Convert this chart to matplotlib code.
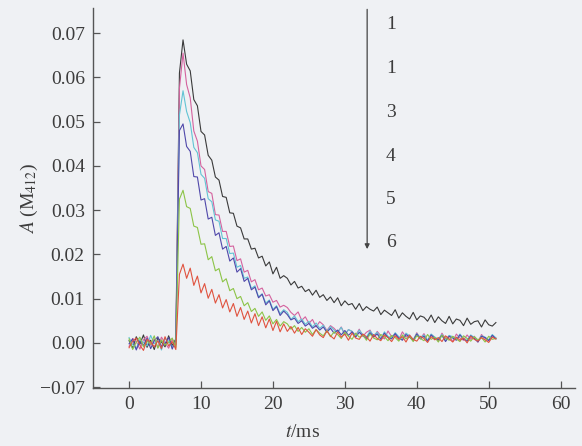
import matplotlib
matplotlib.use("Agg")
import matplotlib.pyplot as plt
import numpy as np

plt.rcParams["font.family"] = ["Liberation Serif", "DejaVu Serif"]
plt.rcParams["mathtext.fontset"] = "stix"

# sampling step of the traces (ms); values below are in units of 1e-3
DT = 0.5

black = [0.5, -1.2, 1.4, -0.3, 1.8, -1.0, 0.6, -1.5, 1.1, 0.2, -0.9, 1.6, -0.6, 0.9,
         61.0, 68.5, 63.0, 61.5, 55.0, 53.6, 47.8, 47.0, 42.4, 41.3,
         37.5, 36.8, 33.1, 32.9, 29.4, 29.3, 26.4, 26.0, 23.5, 23.5,
         21.2, 21.4, 19.2, 19.6, 17.4, 18.3, 15.6, 17.1, 14.6, 15.2,
         14.6, 13.1, 13.9, 12.4, 12.8, 11.6, 12.1, 10.8, 11.9, 10.3,
         10.9, 9.6, 10.4, 9.1, 10.2, 8.4, 9.5, 8.6, 8.9, 7.6,
         8.9, 7.3, 8.2, 7.6, 7.2, 8.1, 6.4, 7.4, 6.8, 6.2,
         7.5, 5.6, 6.8, 6.0, 5.4, 6.9, 5.2, 6.1, 5.8, 4.9,
         6.3, 4.6, 5.9, 5.0, 4.4, 6.0, 4.3, 5.4, 5.1, 3.9,
         5.6, 4.2, 4.8, 5.0, 3.6, 5.2, 4.1, 3.8, 4.6]

pink = [-0.8, 1.0, 0.3, -1.4, 0.7, 1.5, -0.5, 0.9, -1.1, 1.3, 0.0, -1.2, 0.8, -0.4,
        57.5, 65.5, 58.4, 55.4, 47.9, 45.6, 40.0, 39.2, 34.2, 33.8,
        29.0, 28.9, 25.2, 25.2, 21.8, 21.9, 18.6, 19.0, 16.0, 16.4,
        13.8, 14.3, 12.0, 12.4, 10.6, 10.9, 9.2, 9.6, 8.1, 8.5,
        8.0, 6.9, 6.2, 7.0, 5.1, 5.9, 4.4, 5.3, 3.6, 4.8,
        4.1, 2.8, 3.9, 3.3, 2.4, 3.6, 1.9, 3.0, 2.6, 1.7,
        3.1, 1.5, 2.4, 2.9, 1.2, 2.6, 1.6, 0.9, 2.7, 1.4,
        2.0, 0.7, 2.5, 1.3, 1.8, 0.6, 2.3, 1.0, 2.1, 0.5,
        1.9, 1.2, 0.4, 2.2, 0.9, 1.6, 0.3, 2.0, 1.1, 0.6,
        1.8, 0.8, 1.5, 0.2, 1.9, 1.0, 0.5, 1.7, 1.1]

cyan = [1.2, -0.4, -1.3, 0.8, 0.1, -0.7, 1.7, -0.2, 0.6, -1.6, 1.0, 0.4, -0.9, 0.3,
        51.5, 57.0, 52.3, 49.8, 44.2, 43.0, 38.1, 37.2, 32.6, 31.9,
        27.8, 27.5, 23.6, 23.6, 20.2, 20.3, 17.1, 17.5, 14.6, 14.9,
        12.3, 12.9, 10.4, 11.1, 9.0, 9.7, 7.6, 8.4, 6.6, 7.5,
        6.9, 5.3, 6.1, 4.8, 5.4, 4.2, 4.9, 3.6, 4.5, 3.3,
        4.0, 2.6, 3.7, 2.9, 2.4, 3.5, 1.8, 3.0, 2.6, 1.6,
        2.9, 1.9, 1.3, 2.7, 1.7, 2.4, 0.9, 2.5, 1.5, 1.1,
        2.3, 1.4, 0.8, 2.2, 1.6, 0.7, 2.1, 1.2, 1.8, 0.6,
        2.0, 1.3, 0.9, 1.9, 0.5, 1.7, 1.4, 0.8, 2.0, 1.0,
        0.6, 1.8, 1.2, 0.4, 1.6, 1.3, 0.7, 1.9, 1.1]

blue = [-0.2, 0.9, -1.6, 0.4, -0.6, 1.1, -1.3, 0.5, 1.4, -0.8, -0.1, 1.2, -1.4, 0.6,
        48.0, 49.5, 44.4, 43.3, 37.6, 37.5, 32.3, 32.6, 28.0, 28.4,
        24.3, 24.9, 21.2, 21.8, 18.5, 19.2, 16.0, 16.8, 13.9, 14.6,
        12.0, 12.6, 10.2, 11.0, 8.6, 9.5, 7.3, 8.2, 6.2, 7.2,
        6.4, 5.2, 5.6, 4.4, 5.0, 3.8, 4.4, 3.3, 3.9, 2.9,
        3.6, 2.4, 3.3, 2.2, 2.9, 1.8, 2.8, 1.7, 2.5, 1.3,
        2.4, 1.6, 1.0, 2.3, 1.4, 2.0, 0.8, 2.2, 1.2, 0.9,
        2.1, 1.1, 0.6, 1.9, 1.3, 0.5, 2.0, 0.9, 1.5, 0.4,
        1.8, 1.0, 0.7, 1.7, 0.3, 1.5, 1.1, 0.6, 1.8, 0.8,
        0.4, 1.6, 1.0, 0.2, 1.5, 1.2, 0.5, 1.7, 0.9]

green = [0.9, -1.5, 0.2, 1.3, -0.9, 0.4, -0.3, 1.6, -1.2, 0.7, -0.5, 0.1, 1.1, -1.0,
         32.5, 34.5, 30.8, 30.4, 26.4, 26.1, 22.3, 22.4, 18.8, 19.5,
         16.3, 16.8, 13.8, 14.5, 11.8, 12.3, 10.0, 10.5, 8.4, 9.1,
         7.1, 7.8, 6.0, 7.0, 5.1, 6.1, 4.3, 5.3, 3.8, 4.8,
         4.3, 3.1, 3.9, 2.6, 3.5, 2.4, 3.2, 1.9, 3.0, 2.2,
         1.6, 2.8, 1.4, 2.5, 1.9, 1.0, 2.4, 1.5, 0.8, 2.2,
         1.3, 1.8, 0.6, 2.0, 1.1, 0.7, 1.9, 1.4, 0.5, 1.7,
         1.2, 0.4, 1.8, 0.9, 1.5, 0.3, 1.6, 1.0, 0.5, 1.9,
         0.8, 1.3, 0.2, 1.7, 1.1, 0.6, 1.5, 0.9, 0.3, 1.6,
         1.0, 0.4, 1.4, 0.7, 1.2, 0.2, 1.5, 0.8, 1.0]

red = [-1.1, 0.4, 1.1, -0.5, -1.7, 0.8, 0.2, -0.9, 0.5, -1.3, 1.4, -0.7, 0.3, -1.5,
       15.5, 17.8, 14.6, 16.9, 13.0, 15.1, 11.3, 13.4, 10.1, 12.1,
       9.0, 10.9, 7.9, 9.8, 7.0, 8.9, 6.0, 8.0, 5.3, 7.2,
       4.5, 6.6, 3.9, 5.9, 3.4, 5.4, 2.8, 4.9, 2.5, 4.3,
       2.6, 3.7, 2.2, 3.5, 1.9, 3.2, 2.4, 1.5, 3.0, 1.8,
       1.2, 2.7, 1.6, 0.9, 2.5, 1.3, 2.0, 0.6, 2.2, 1.1,
       0.8, 2.0, 1.4, 0.4, 1.9, 1.0, 0.5, 1.8, 1.2, 0.3,
       1.6, 0.9, 1.4, 0.2, 1.7, 0.8, 0.4, 1.5, 1.0, 0.1,
       1.4, 0.7, 1.2, 0.3, 1.6, 0.9, 0.2, 1.3, 0.6, 1.1,
       0.0, 1.5, 0.8, 0.4, 1.2, 0.7, 0.1, 1.3, 0.9]

series = [black, pink, cyan, blue, green, red]
colors = ["#3a3a3a", "#d4629e", "#62c4d4", "#5048aa", "#8cc447", "#e0533f"]
curve_labels = ["1", "1", "3", "4", "5", "6"]
label_y = [0.0719, 0.0620, 0.0520, 0.0421, 0.0324, 0.0226]

yticks = [-0.0100, 0.00, 0.01, 0.02, 0.03, 0.04, 0.05, 0.06, 0.07]
yticklabels = ["\u22120.07", "0.00", "0.01", "0.02", "0.03", "0.04", "0.05", "0.06", "0.07"]
xticks = [0, 10, 20, 30, 40, 50, 60]

bg = "#eff1f4"
ink = "#3c3c3c"

fig = plt.figure(figsize=(5.82, 4.46), dpi=100, facecolor=bg)
ax = fig.add_axes([0.160, 0.130, 0.828, 0.852])
ax.set_facecolor(bg)

for vals, c in zip(series, colors):
    t = np.arange(len(vals)) * DT
    ax.plot(t, np.array(vals) * 1e-3, color=c, lw=0.8)

ax.set_xlim(-5, 62)
ax.set_ylim(-0.0102, 0.0757)
ax.set_xticks(xticks)
ax.set_yticks(yticks)
ax.set_yticklabels(yticklabels)

for s in ["top", "right"]:
    ax.spines[s].set_visible(False)
for s in ["left", "bottom"]:
    ax.spines[s].set_color("#555555")
    ax.spines[s].set_linewidth(1.0)

ax.tick_params(direction="in", length=5, width=0.9, colors="#555555",
               labelcolor=ink, labelsize=14, pad=6)

ax.set_ylabel(r"$A$ (M$_{412}$)", fontsize=14, color=ink, labelpad=0)
ax.set_xlabel(r"$t$/ms", fontsize=14, color=ink)
ax.xaxis.set_label_coords(0.434, -0.095)

# arrow showing the order of the traces
ax.annotate("", xy=(33.1, 0.0212), xytext=(33.1, 0.0754),
            arrowprops=dict(arrowstyle="-|>", lw=0.9, color="#444444",
                            mutation_scale=7, shrinkA=0, shrinkB=0),
            annotation_clip=False)
for lab, y in zip(curve_labels, label_y):
    ax.text(36.4, y, lab, ha="center", va="center", fontsize=14, color=ink)

fig.savefig("out.png", dpi=100, facecolor=bg)
